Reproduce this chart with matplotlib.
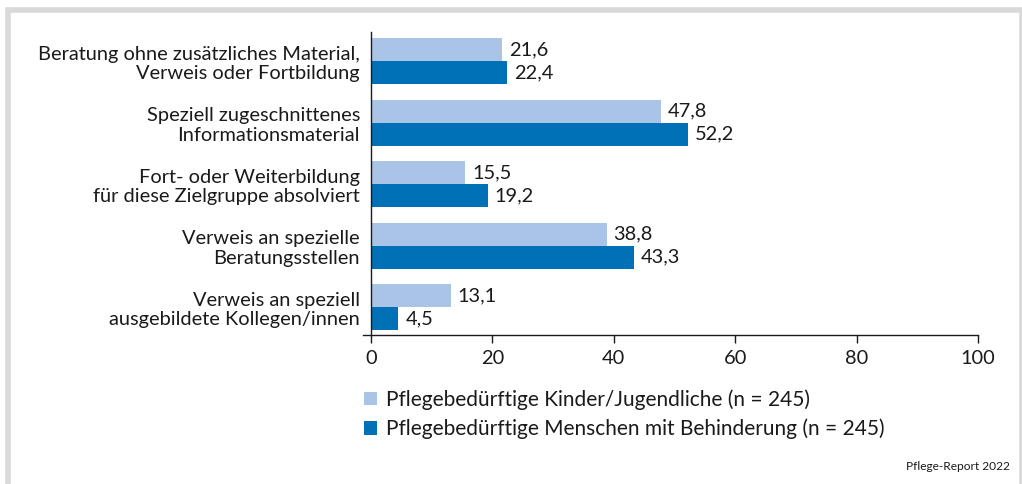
import matplotlib
matplotlib.use("Agg")
import matplotlib.pyplot as plt
from matplotlib.patches import Rectangle, Patch
from matplotlib.lines import Line2D

plt.rcParams['font.family'] = ['Lato', 'DejaVu Sans']

categories = [
    "Beratung ohne zusätzliches Material,\nVerweis oder Fortbildung",
    "Speziell zugeschnittenes\nInformationsmaterial",
    "Fort- oder Weiterbildung\nfür diese Zielgruppe absolviert",
    "Verweis an spezielle\nBeratungsstellen",
    "Verweis an speziell\nausgebildete Kollegen/innen",
]
kinder = [21.6, 47.8, 15.5, 38.8, 13.1]
behinderung = [22.4, 52.2, 19.2, 43.3, 4.5]
series_labels = [
    "Pflegebedürftige Kinder/Jugendliche (n = 245)",
    "Pflegebedürftige Menschen mit Behinderung (n = 245)",
]
xticks = [0, 20, 40, 60, 80, 100]
source = "Pflege-Report 2022"

c_light = "#AAC4E8"
c_dark = "#0071B7"
txt = "#1a1a1a"
fs = 14.4
fs_leg = 15

W, H = 1022, 484
fig = plt.figure(figsize=(W / 100, H / 100), dpi=100)

# grey frame
fig.patches.append(Rectangle((8 / W, -0.1), (1021.5 - 8) / W, 1.1 - 10.5 / H,
                             transform=fig.transFigure, fill=False,
                             edgecolor="#D9D9D9", linewidth=4.0))

left, right = 371 / W, 978 / W
top, bottom = 32 / H, 335 / H
ax = fig.add_axes([left, 1 - bottom, right - left, bottom - top])

bh = 0.374
ys = list(range(len(categories)))
y1 = [y - bh / 2 for y in ys]
y2 = [y + bh / 2 for y in ys]
b1 = ax.barh(y1, kinder, height=bh, color=c_light)
b2 = ax.barh(y2, behinderung, height=bh, color=c_dark)
for rect, v in zip(b1, kinder):
    ax.annotate(f"{v:.1f}".replace(".", ","), (v, rect.get_y() + bh / 2),
                xytext=(5, 0), textcoords="offset points", va="center",
                ha="left", fontsize=fs, color=txt)
for rect, v in zip(b2, behinderung):
    ax.annotate(f"{v:.1f}".replace(".", ","), (v, rect.get_y() + bh / 2),
                xytext=(5, 0), textcoords="offset points", va="center",
                ha="left", fontsize=fs, color=txt)

ax.set_xlim(0, 100)
ax.set_ylim(4.374 + 0.08, -0.374 - 0.098)
ax.set_yticks(ys)
ax.set_yticklabels(categories, fontsize=fs, color=txt, linespacing=1.2)
ax.tick_params(axis="y", length=0, pad=8)
ax.set_xticks(xticks)
ax.set_xticklabels([str(t) for t in xticks], fontsize=fs, color=txt)
ax.tick_params(axis="x", length=6, width=1, color=txt, pad=5, direction="out")
for s in ["top", "right"]:
    ax.spines[s].set_visible(False)
ax.spines["left"].set_color(txt)
ax.spines["bottom"].set_visible(False)
ax.spines["left"].set_linewidth(1)
# x axis line, slightly extended to the left
fig.add_artist(Line2D([363 / W, right], [1 - bottom, 1 - bottom],
                      transform=fig.transFigure, color=txt, linewidth=1))

handles = [Patch(facecolor=c_light), Patch(facecolor=c_dark)]
fig.legend(handles, series_labels, loc="upper left",
           bbox_to_anchor=(356 / W, 1 - 381 / H), frameon=False,
           fontsize=fs_leg, handlelength=0.62, handleheight=0.62,
           handletextpad=0.4, labelspacing=0.42, borderaxespad=0,
           labelcolor=txt)

fig.text(1010 / W, 1 - 467 / H, source, ha="right", va="center",
         fontsize=8.6, color=txt)

fig.savefig("out.png", dpi=100)
